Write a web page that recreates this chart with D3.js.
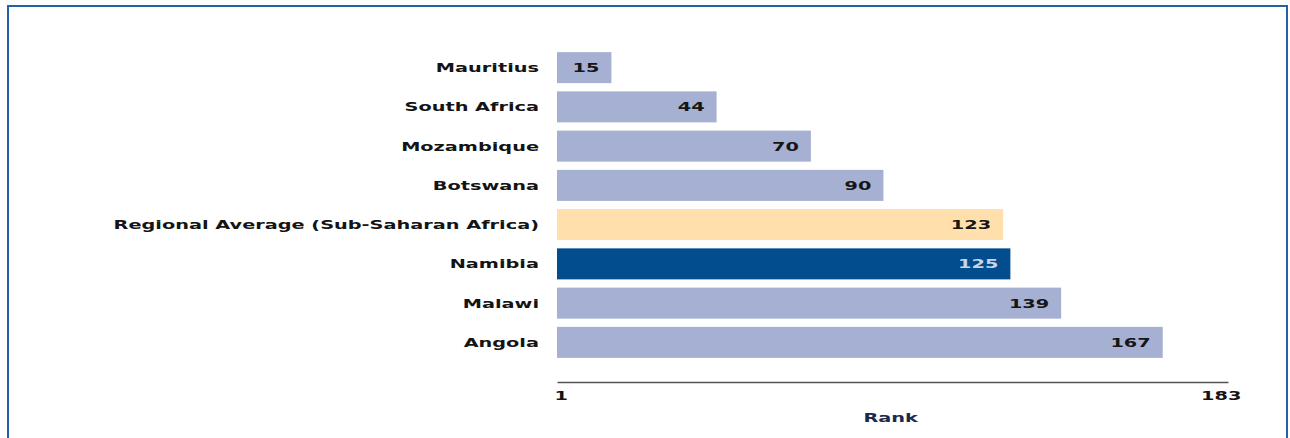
<!DOCTYPE html>
<html>
<head>
<meta charset="utf-8">
<script src="https://cdn.jsdelivr.net/npm/d3@7"></script>
<style>
  html, body { margin: 0; padding: 0; background: #ffffff; }
  svg { display: block; }
</style>
</head>
<body>
<svg id="chart" width="1290" height="438"></svg>
<script>
// Ranking data (lower is better), top to bottom
const countries = ["Mauritius", "South Africa", "Mozambique", "Botswana",
  "Regional Average (Sub-Saharan Africa)", "Namibia", "Malawi", "Angola"];
const ranks = [15, 44, 70, 90, 123, 125, 139, 167];
const kinds = ["peer", "peer", "peer", "peer", "region", "focus", "peer", "peer"];
const tickValues = [1, 183];
const tickLabels = ["1", "183"];
const axisTitle = "Rank";

const fill = { peer: "#a5b0d3", region: "#ffdfab", focus: "#024d8e" };
const valueColor = { peer: "#161616", region: "#161616", focus: "#c9d3ea" };

const svg = d3.select("#chart");
const stretch = 1.68;          // wide, horizontally stretched lettering
const fontSize = 11.5;
const fontFamily = "'DejaVu Sans', Verdana, sans-serif";

// outer frame
svg.append("rect")
  .attr("x", 8).attr("y", 6)
  .attr("width", 1279).attr("height", 460)
  .attr("fill", "none")
  .attr("stroke", "#2062ab")
  .attr("stroke-width", 2);

const x = d3.scaleLinear().domain([0, 185]).range([557, 1228]);
const y = d3.scaleBand().domain(countries).range([48, 362])
  .paddingInner(0.21).paddingOuter(0.105);

const rows = countries.map((c, i) => ({ name: c, rank: ranks[i], kind: kinds[i] }));

// bars
svg.append("g").selectAll("rect")
  .data(rows).join("rect")
  .attr("x", x(0))
  .attr("y", d => y(d.name))
  .attr("width", d => x(d.rank) - x(0))
  .attr("height", y.bandwidth())
  .attr("fill", d => fill[d.kind]);

function stretchedText(g, tx, ty, str, anchor, color) {
  return g.append("text")
    .attr("transform", `translate(${tx},${ty}) scale(${stretch},1)`)
    .attr("text-anchor", anchor)
    .attr("dominant-baseline", "central")
    .attr("font-family", fontFamily)
    .attr("font-size", fontSize)
    .attr("font-weight", "bold")
    .attr("fill", color)
    .text(str);
}

// category labels
const labels = svg.append("g");
rows.forEach(d => stretchedText(labels, 539, y(d.name) + y.bandwidth() / 2 + 0.5, d.name, "end", "#141414"));

// value labels inside bar ends
const values = svg.append("g");
rows.forEach(d => stretchedText(values, x(d.rank) - 12, y(d.name) + y.bandwidth() / 2 + 0.5, String(d.rank), "end", valueColor[d.kind]));

// bottom axis
const axis = d3.axisBottom(x)
  .tickValues(tickValues)
  .tickSize(0)
  .tickFormat((v, i) => tickLabels[i]);
const ax = svg.append("g").attr("transform", "translate(0,382)").call(axis);
ax.select(".domain").attr("stroke", "#555555").attr("stroke-width", 1.6);
ax.selectAll(".tick text").each(function () {
  const t = d3.select(this);
  t.attr("dy", null).attr("y", 14.5)
    .attr("dominant-baseline", "central")
    .attr("font-family", fontFamily)
    .attr("font-size", fontSize)
    .attr("font-weight", "bold")
    .attr("fill", "#141414")
    .attr("transform", `scale(${stretch},1)`);
});

// axis title
stretchedText(svg, (x(1) + x(183)) / 2, 418, axisTitle, "middle", "#1c2a4c");
</script>
</body>
</html>
